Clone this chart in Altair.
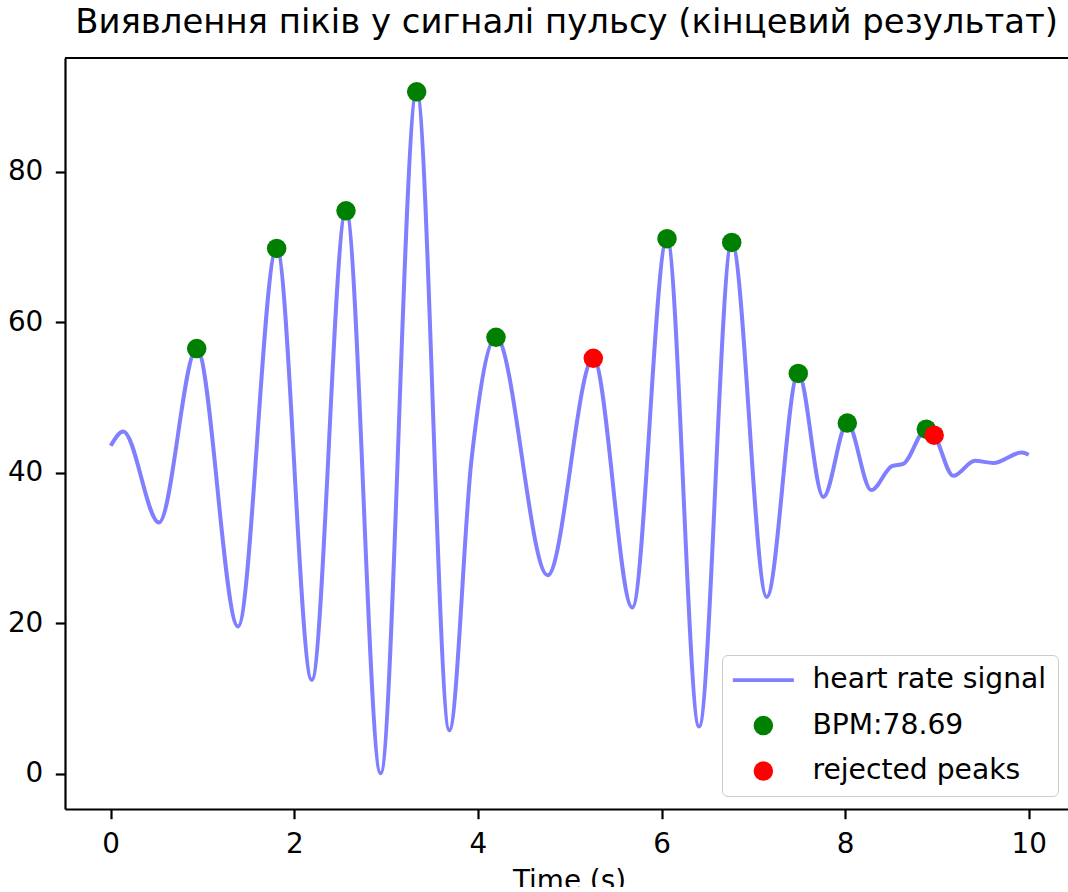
import altair as alt
import pandas as pd

# Filtered pulse signal, sampled at its turning points (seconds, amplitude)
time_s = [0.0, 0.137, 0.526, 0.937, 1.387, 1.808, 2.19, 2.563, 2.94, 3.333,
          3.689, 3.93, 4.197, 4.76, 5.257, 5.682, 6.06, 6.409, 6.765,
          7.146, 7.49, 7.763, 8.024, 8.285, 8.51, 8.634, 8.885, 8.97, 9.178,
          9.415, 9.615, 9.924, 10.0]
signal = [43.6, 45.5, 33.4, 56.5, 19.6, 69.8, 12.5, 74.8, 0.1, 90.6,
          5.8, 41.7, 58.0, 26.4, 55.2, 22.1, 71.1, 6.3, 70.6,
          23.5, 53.2, 36.8, 46.6, 37.7, 40.9, 41.2, 45.8, 45.0, 39.6,
          41.6, 41.3, 42.7, 42.4]

# Accepted peaks
peak_t = [0.937, 1.808, 2.563, 3.333, 4.197, 6.06, 6.765, 7.49, 8.024, 8.885]
peak_v = [56.5, 69.8, 74.8, 90.6, 58.0, 71.1, 70.6, 53.2, 46.6, 45.8]

# Rejected peaks
rej_t = [5.257, 8.97]
rej_v = [55.2, 45.0]

SIG = "heart rate signal"
BPM = "BPM:78.69"
REJ = "rejected peaks"

line_df = pd.DataFrame({"t": time_s, "v": signal})
peak_df = pd.DataFrame({"t": peak_t, "v": peak_v, "series": BPM})
rej_df = pd.DataFrame({"t": rej_t, "v": rej_v, "series": REJ})

W, H = 1003, 751
FONT = "DejaVu Sans"
FS = 27.8
LINE_COLOR = "#8080ff"  # blue at half opacity over white

x_scale = alt.Scale(domain=[-0.4978, 10.428], nice=False, zero=False)
y_scale = alt.Scale(domain=[-4.65, 95.09], nice=False, zero=False)
color_scale = alt.Scale(domain=[SIG, BPM, REJ], range=[LINE_COLOR, "#008000", "#ff0000"])
# the signal entry of the legend is drawn as a short thick bar
shape_scale = alt.Scale(domain=[SIG, BPM, REJ],
                        range=["M-3.13,-0.2H3.13V0.2H-3.13Z", "circle", "circle"])

axis_style = dict(
    grid=False, tickSize=9.7, tickWidth=2.2, tickColor="black",
    domainColor="black", domainWidth=2.2, labelFont=FONT, labelFontSize=FS,
    labelColor="black", titleFont=FONT, titleFontSize=FS,
    titleFontWeight="normal", titleColor="black",
)

x_enc = alt.X("t:Q", scale=x_scale,
              axis=alt.Axis(values=[0, 2, 4, 6, 8, 10], format="d", labelPadding=12,
                            title="Time (s)", titleBaseline="top", titleY=58,
                            titleX=504, **axis_style))
y_enc = alt.Y("v:Q", scale=y_scale,
              axis=alt.Axis(values=[0, 20, 40, 60, 80], format="d", labelPadding=12.5,
                            title=None, **axis_style))


def make_legend():
    return alt.Legend(
        title=None, orient="none", legendX=657, legendY=597,
        labelFont=FONT, labelFontSize=28.2, labelColor="black", labelBaseline="middle",
        labelLimit=500,
        symbolSize=380, symbolOffset=16.25, labelOffset=35, rowPadding=16.5, padding=11,
        symbolStrokeWidth=0, symbolOpacity=1,
        fillColor="rgba(255,255,255,0.8)", strokeColor="#cccccc", cornerRadius=5.5,
    )


color_enc = alt.Color("series:N", scale=color_scale, legend=make_legend())
shape_enc = alt.Shape("series:N", scale=shape_scale, legend=make_legend())

line = alt.Chart(line_df).mark_line(
    interpolate="monotone", strokeWidth=4, color=LINE_COLOR
).encode(x=x_enc, y=y_enc)

peaks = alt.Chart(peak_df).mark_point(
    filled=True, size=380, opacity=1
).encode(x=x_enc, y=y_enc, color=color_enc, shape=shape_enc)

rejected = alt.Chart(rej_df).mark_point(
    filled=True, size=380, opacity=1
).encode(x=x_enc, y=y_enc, color=color_enc, shape=shape_enc)

# top spine of the axes frame
top_spine = alt.Chart(pd.DataFrame({"k": [0]})).mark_rule(
    color="black", strokeWidth=2.2
).encode(x=alt.value(0), x2=alt.value(W), y=alt.value(0))

chart = alt.layer(line, peaks, rejected, top_spine).properties(
    width=W, height=H,
    title=alt.TitleParams(
        "Виявлення піків у сигналі пульсу (кінцевий результат)",
        font=FONT, fontSize=33.9, fontWeight="normal", color="black",
        anchor="middle", frame="group", baseline="alphabetic", offset=20, dy=30,
    ),
    autosize=alt.AutoSizeParams(type="none"),
    padding={"left": 65, "top": 58, "right": 0, "bottom": 78},
).configure_view(stroke=None)

chart.save("out.html", embed_options={"renderer": "svg", "actions": False})
